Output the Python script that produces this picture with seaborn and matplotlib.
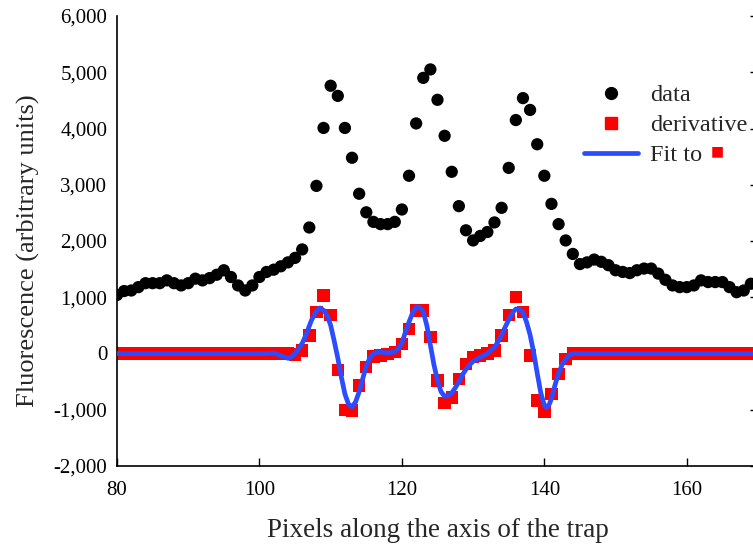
import numpy as np
import pandas as pd
import matplotlib
matplotlib.use("Agg")
import matplotlib.pyplot as plt
import seaborn as sns
from matplotlib.ticker import FuncFormatter
from matplotlib.lines import Line2D

# Pixel positions along the trap
pixels = list(range(80, 170))

# Measured fluorescence (arbitrary units)
data_vals = [1040, 1110, 1120, 1180, 1250, 1250, 1250, 1300, 1250, 1210,
             1250, 1330, 1300, 1340, 1400, 1480, 1360, 1210, 1120, 1210,
             1360, 1450, 1490, 1550, 1620, 1700, 1850, 2240, 2980, 4010,
             4760, 4580, 4010, 3480, 2840, 2510, 2340, 2300, 2300, 2340,
             2560, 3160, 4090, 4900, 5050, 4510, 3870, 3230, 2620, 2190,
             2010, 2090, 2160, 2330, 2590, 3300, 4150, 4540, 4330, 3720,
             3160, 2660, 2300, 2010, 1770, 1590, 1620, 1670, 1630, 1570,
             1480, 1450, 1430, 1480, 1510, 1510, 1420, 1310, 1210, 1180,
             1180, 1210, 1300, 1270, 1270, 1270, 1180, 1090, 1120, 1240]

# Derivative (zero outside the trap region)
deriv_core = [-20, 50, 320, 735, 1030, 680, -290, -1000, -1010, -570,
              -240, -50, -35, -10, 25, 170, 440, 765, 765, 290,
              -480, -880, -780, -450, -185, -65, -35, 0, 55, 320,
              680, 1000, 735, -35, -835, -1045, -715, -360, -95]
deriv_vals = [0] * 25 + deriv_core + [0] * 26

# Fit to the derivative
fit_x = [80, 101, 102, 103, 104, 104.5, 105.2, 106, 106.5, 107.3, 108, 108.5,
         109, 109.5, 110, 110.5, 111, 111.5, 112, 112.5, 113, 113.5, 114,
         114.5, 115, 115.5, 116, 116.5, 117, 118, 119, 119.5, 120, 120.5,
         121, 121.5, 122, 122.5, 123, 123.5, 124, 124.5, 125, 125.5, 126,
         126.5, 127, 127.5, 128, 128.5, 129, 129.5, 130, 131, 132, 132.5,
         133, 133.5, 134, 134.5, 135, 135.5, 136, 136.5, 137, 137.5, 138,
         138.5, 139, 139.5, 140, 140.3, 140.7, 141, 141.5, 142, 142.5, 143,
         143.5, 144, 170]
fit_y = [0, 0, 10, -40, -85, -60, 30, 180, 320, 590, 760, 810,
         770, 680, 500, 220, -80, -420, -720, -900, -950, -860, -680,
         -450, -220, -80, 0, 20, 25, 10, 30, 90, 190, 380,
         560, 720, 830, 820, 740, 500, 150, -200, -480, -680, -760,
         -750, -700, -610, -500, -380, -280, -200, -140, -65, 0, 60,
         110, 210, 330, 470, 600, 720, 790, 790, 730, 560, 330,
         20, -350, -700, -920, -960, -900, -800, -560, -350, -200, -100,
         -30, 0, 0]

df = pd.DataFrame({"pixel": pixels, "data": data_vals, "derivative": deriv_vals})
fit_df = pd.DataFrame({"pixel": fit_x, "fit": fit_y})

sns.set_style("white")
plt.rcParams['font.family'] = ['Liberation Serif', 'DejaVu Sans']

fig = plt.figure(figsize=(7.53, 5.5), dpi=100)
ax = fig.add_axes([117 / 753, 84 / 550, 641 / 753, 450 / 550])

sns.scatterplot(data=df, x="pixel", y="derivative", ax=ax, marker="s",
                color="#ff0000", s=80, edgecolor="none", zorder=2)
sns.lineplot(data=fit_df, x="pixel", y="fit", ax=ax, color="#2b4cff",
             linewidth=3.4, estimator=None, zorder=3)
sns.scatterplot(data=df, x="pixel", y="data", ax=ax, marker="o",
                color="black", s=78, edgecolor="none", zorder=4)

ax.set_xlim(80, 170)
ax.set_ylim(-2000, 6000)
ax.set_xticks([80, 100, 120, 140, 160])
ax.set_yticks(range(-2000, 6001, 1000))
ax.yaxis.set_major_formatter(FuncFormatter(lambda v, p: f"{v:,.0f}"))

ax.tick_params(axis="both", direction="in", length=6, width=1,
               labelsize=15, colors="black")
ax.tick_params(axis="y", right=True, pad=7)
ax.tick_params(axis="x", bottom=True, pad=11)
for side in ["left", "bottom", "right"]:
    ax.spines[side].set_color("black")
    ax.spines[side].set_linewidth(1.2)
ax.spines["top"].set_visible(False)

ax.set_xlabel("Pixels along the axis of the trap", fontsize=19.5, labelpad=13)
ax.set_ylabel("Fluorescence (arbitrary units)", fontsize=19)
ax.yaxis.set_label_coords((40 - 117) / 641, (466 - 251) / 450)

handles = [
    Line2D([], [], marker="o", color="black", linestyle="none", markersize=8.5),
    Line2D([], [], marker="s", color="#ff0000", linestyle="none", markersize=8),
    Line2D([], [], color="#2b4cff", linewidth=3.4),
]
leg = ax.legend(handles, ["data", "derivative", "Fit to"], loc="upper left",
                bbox_to_anchor=(455 / 641, 0.875), frameon=False, fontsize=17.5,
                handlelength=2.2, handletextpad=0.5, labelspacing=0.33,
                borderpad=0)
# red square after "Fit to" in the legend
fig.text(717 / 753, 1 - 151 / 550, "\u25A0", color="#ff0000", fontsize=10,
         ha="center", va="center", family="DejaVu Sans")

fig.savefig("out.png", dpi=100)
